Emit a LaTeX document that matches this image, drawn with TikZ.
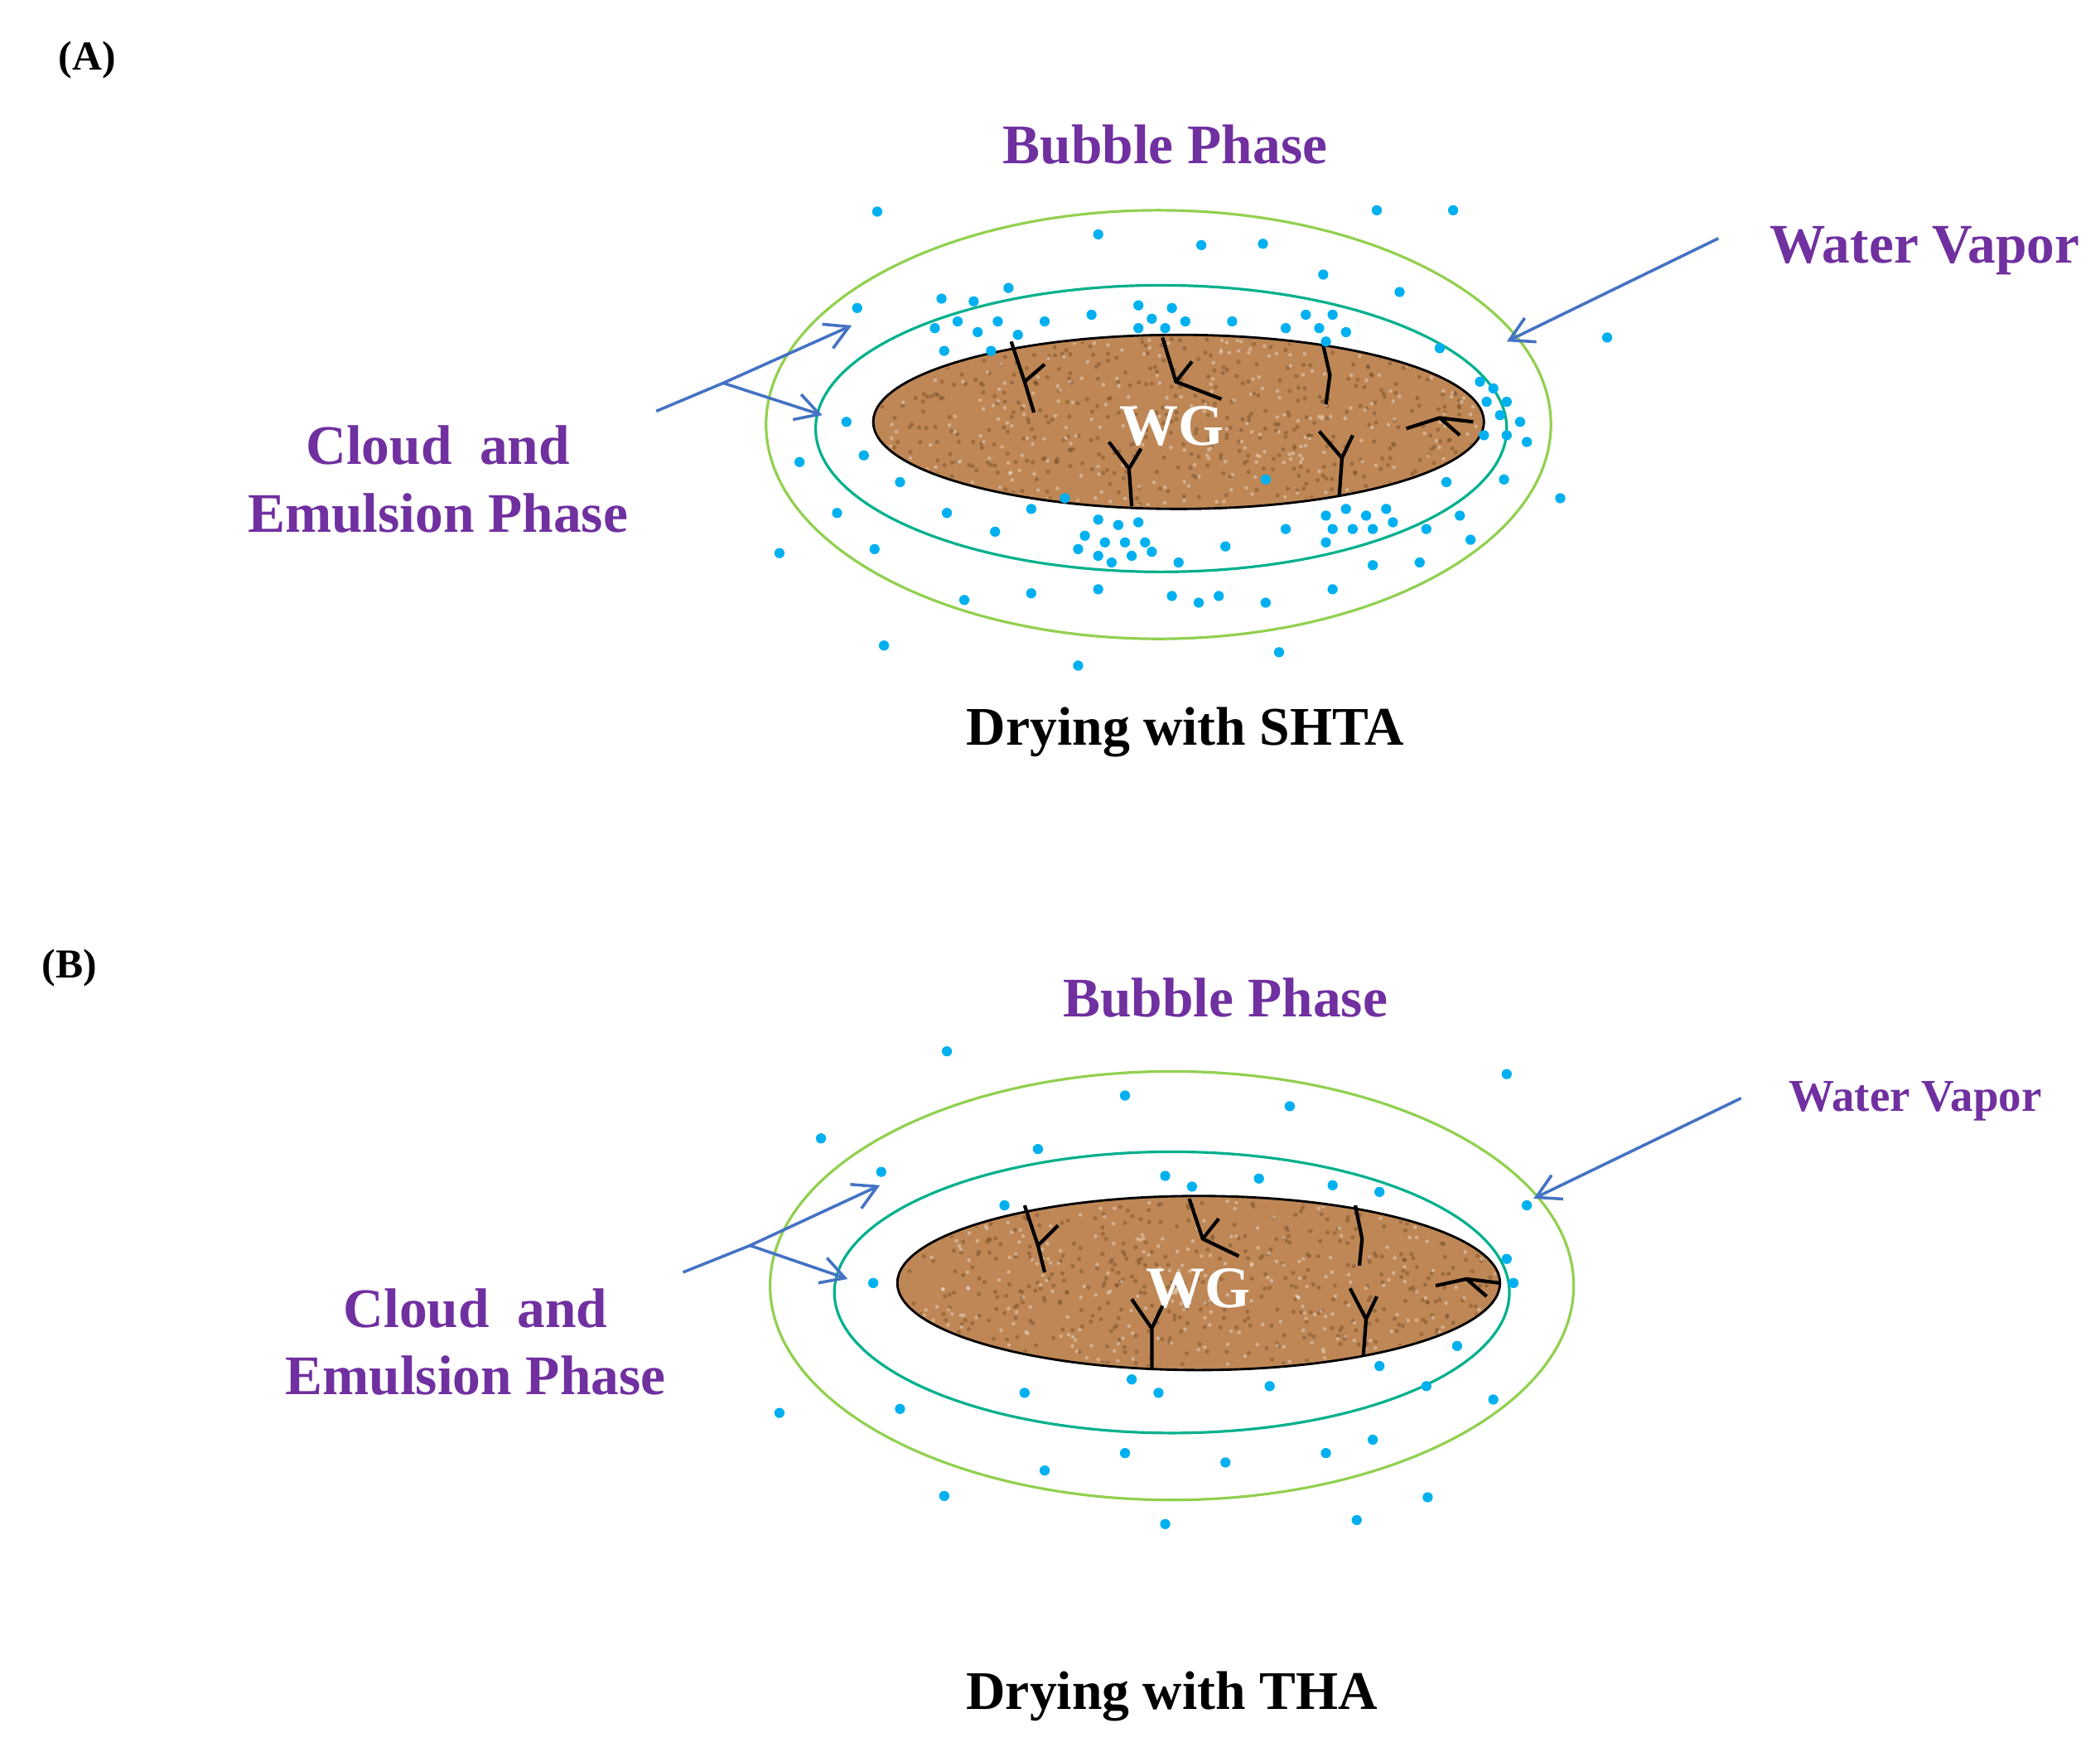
\documentclass[tikz,border=0pt]{standalone}
\usepackage{fontspec}
\setmainfont{Liberation Serif}
\usetikzlibrary{arrows.meta}
\definecolor{ptxt}{RGB}{112,48,160}
\definecolor{dotc}{RGB}{0,176,240}
\definecolor{ring1}{RGB}{146,208,80}
\definecolor{ring2}{RGB}{0,176,140}
\definecolor{wgc}{RGB}{190,135,85}
\definecolor{arr}{RGB}{68,114,196}
\begin{document}
\begin{tikzpicture}[x=0.016cm,y=-0.016cm,
 lab/.style={text=ptxt,font=\bfseries\fontsize{19}{23}\selectfont,align=center},
 captxt/.style={font=\bfseries\fontsize{18.5}{22}\selectfont},
 tag/.style={font=\bfseries\fontsize{14}{16}\selectfont},
 outer/.style={draw=ring1,line width=0.9pt},
 mid/.style={draw=ring2,line width=0.9pt},
 wg/.style={draw=black,line width=0.8pt,fill=wgc},
 crack/.style={draw=black,line width=1.2pt},
 ar/.style={draw=arr,line width=1pt,-{Straight Barb[length=8pt,width=9pt]}},
 ln/.style={draw=arr,line width=1pt}]
\useasboundingbox (0,0) rectangle (1568,1308);
\pgfmathsetseed{7}
% ---------- Panel A
\node[tag] (tA) at (65,45) {(A)};
\draw[outer] (865,317) ellipse [x radius=293,y radius=160];
\draw[mid] (867,320) ellipse [x radius=258,y radius=107];
\draw[wg] (880,315) ellipse [x radius=228,y radius=65];
\begin{scope}
\clip (880,315) ellipse [x radius=226,y radius=63];
\foreach \i in {1,...,500}{\fill[brown!60!black,opacity=0.45] ({880+226*rand},{315+63*rand}) circle (1.6);}
\foreach \i in {1,...,300}{\fill[white,opacity=0.35] ({880+226*rand},{315+63*rand}) circle (1.4);}
\end{scope}
\node[text=white,font=\bfseries\fontsize{20}{20}\selectfont] (wgA) at (875,318) {WG};
\draw[crack] (755,255)--(765,285)--(772,308) (765,285)--(780,272);
\draw[crack] (868,252)--(878,285)--(912,298) (878,285)--(890,270);
\draw[crack] (988,258)--(993,280)--(990,302);
\draw[crack] (985,322)--(1002,342)--(1000,370) (1002,342)--(1010,325);
\draw[crack] (1050,320)--(1075,312)--(1100,315) (1075,312)--(1090,325);
\draw[crack] (828,330)--(843,350)--(845,378) (843,350)--(852,335);
\foreach \p in {(655,158),(820,175),(897,183),(943,182),(1028,157),(1085,157),(988,205),(1045,218),(1200,252),(640,230),(703,223),(727,225),(753,215),(698,245),(715,240),(730,248),(745,240),(760,250),(740,262),(705,262),(780,240),(815,235),(850,228),(860,238),(875,230),(885,240),(850,245),(870,245),(920,240),(975,235),(985,245),(995,235),(1005,248),(990,255),(960,245),(1075,260),(1105,285),(1115,290),(1125,300),(1110,300),(1120,310),(1135,315),(1108,325),(1125,325),(1140,330),(1123,358),(1165,372),(632,315),(597,345),(645,340),(672,360),(707,383),(582,413),(625,383),(653,410),(743,397),(770,380),(820,388),(835,392),(850,390),(810,400),(825,405),(840,405),(855,405),(805,410),(820,415),(830,420),(845,415),(860,412),(990,385),(1005,380),(1020,385),(1035,380),(995,395),(1010,395),(1025,395),(1040,390),(990,405),(960,395),(1065,395),(1090,385),(880,420),(915,408),(1025,422),(1060,420),(1098,403),(720,448),(770,443),(820,440),(875,445),(895,450),(910,445),(945,450),(995,440),(660,482),(805,497),(955,487),(945,358),(795,372),(1080,360)}
 \fill[dotc] \p circle (3.8);
\node[lab] (bpA) at (870,108) {Bubble Phase};
\node[lab] (wvA) at (1437,187) {Water Vapor};
\node[lab,align=center] (ceA) at (327,358) {Cloud~ and\\Emulsion Phase};
\coordinate (sA) at (490,307);
\coordinate (jA) at (540,286);
\coordinate (e1A) at (636,243);
\coordinate (e2A) at (614,310);
\draw[ln] (sA)--(jA);
\draw[ar] (jA)--(e1A);
\draw[ar] (jA)--(e2A);
\coordinate (wsA) at (1283,178);
\coordinate (weA) at (1125,255);
\draw[ar] (wsA)--(weA);
\node[captxt] (dA) at (885,547) {Drying with SHTA};
% ---------- Panel B
\node[tag] (tB) at (52,723) {(B)};
\draw[outer] (875,960) ellipse [x radius=300,y radius=160];
\draw[mid] (875,965) ellipse [x radius=252,y radius=105];
\draw[wg] (895,958) ellipse [x radius=225,y radius=65];
\begin{scope}
\clip (895,958) ellipse [x radius=223,y radius=63];
\foreach \i in {1,...,500}{\fill[brown!60!black,opacity=0.45] ({895+223*rand},{958+63*rand}) circle (1.6);}
\foreach \i in {1,...,300}{\fill[white,opacity=0.35] ({895+223*rand},{958+63*rand}) circle (1.4);}
\end{scope}
\node[text=white,font=\bfseries\fontsize{20}{20}\selectfont] (wgB) at (895,962) {WG};
\draw[crack] (765,900)--(775,930)--(780,950) (775,930)--(790,915);
\draw[crack] (888,895)--(898,925)--(925,938) (898,925)--(910,910);
\draw[crack] (1012,900)--(1017,925)--(1015,945);
\draw[crack] (1008,962)--(1020,985)--(1018,1012) (1020,985)--(1028,968);
\draw[crack] (1072,960)--(1095,955)--(1120,958) (1095,955)--(1110,968);
\draw[crack] (845,970)--(860,992)--(860,1022) (860,992)--(868,975);
\foreach \p in {(707,785),(1125,802),(613,850),(840,818),(963,826),(775,858),(658,875),(750,900),(870,878),(890,886),(940,880),(995,885),(1030,890),(1140,900),(652,958),(1125,940),(1130,958),(1088,1005),(1030,1020),(845,1030),(865,1040),(948,1035),(1065,1035),(1115,1045),(582,1055),(672,1052),(765,1040),(840,1085),(915,1092),(780,1098),(990,1085),(1025,1075),(705,1117),(870,1138),(1013,1135),(1066,1118)}
 \fill[dotc] \p circle (3.8);
\node[lab] (bpB) at (915,745) {Bubble Phase};
\node[text=ptxt,font=\bfseries\fontsize{15.5}{18}\selectfont] (wvB) at (1430,822) {Water Vapor};
\node[lab,align=center] (ceB) at (355,1002) {Cloud~ and\\Emulsion Phase};
\coordinate (sB) at (510,950);
\coordinate (jB) at (560,930);
\coordinate (e1B) at (657,885);
\coordinate (e2B) at (633,955);
\draw[ln] (sB)--(jB);
\draw[ar] (jB)--(e1B);
\draw[ar] (jB)--(e2B);
\coordinate (wsB) at (1300,820);
\coordinate (weB) at (1145,895);
\draw[ar] (wsB)--(weB);
\node[captxt] (dB) at (875,1267) {Drying with THA};
\end{tikzpicture}
\end{document}
